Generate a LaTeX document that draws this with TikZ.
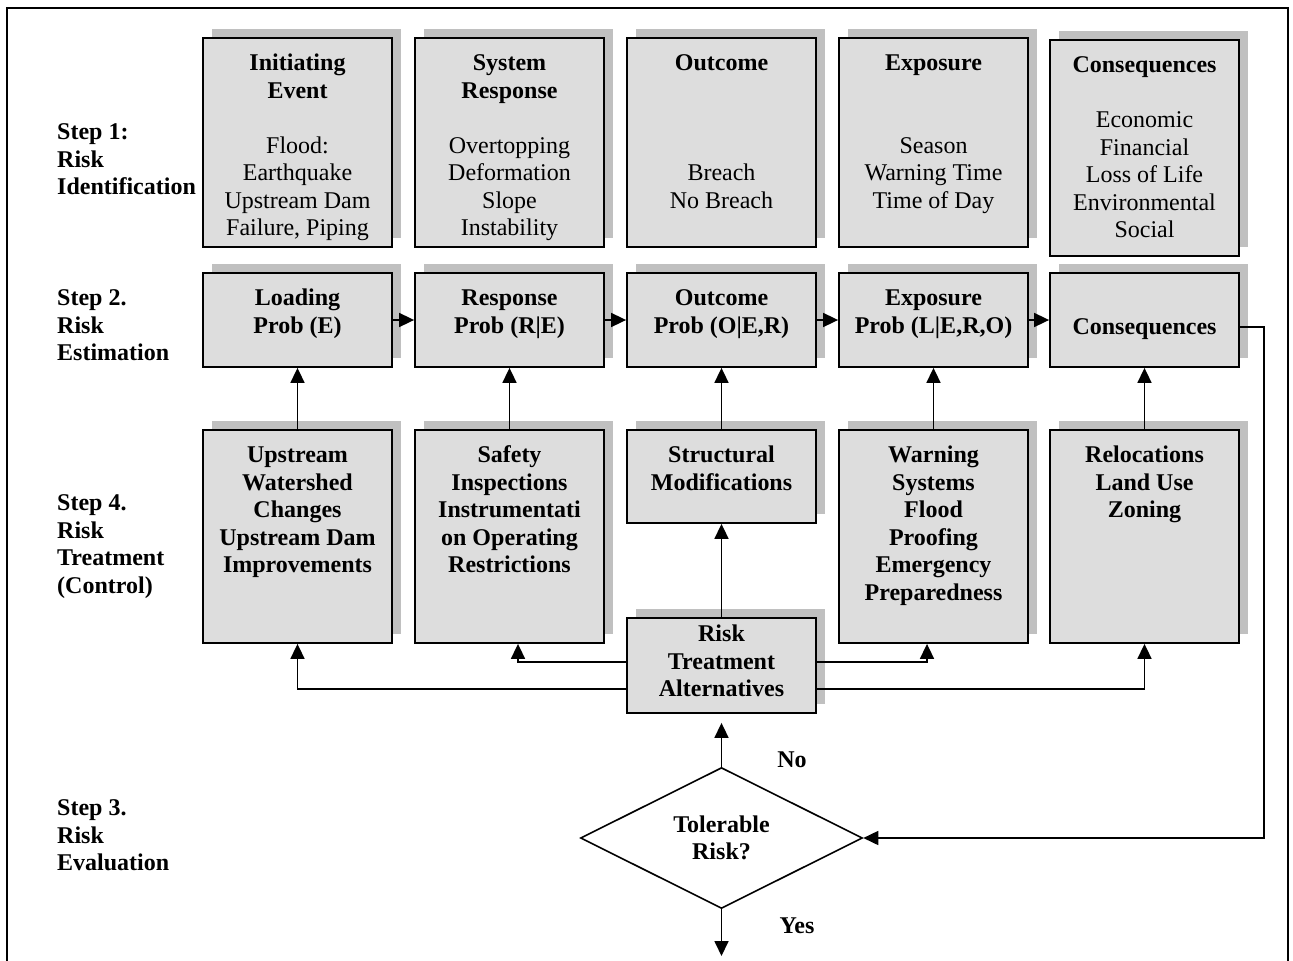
\documentclass[tikz,border=0pt]{standalone}
\usepackage{fontspec}
\setmainfont{Liberation Serif}
\usetikzlibrary{arrows.meta,shapes.geometric,shadows}
\definecolor{boxgray}{HTML}{DDDDDD}
\definecolor{shadowgray}{HTML}{C0C0C0}
\tikzset{
  box/.style={draw, line width=1.8pt, fill=boxgray, minimum width=189pt, inner sep=0pt,
    drop shadow={shadow xshift=9pt, shadow yshift=9pt, fill=shadowgray, opacity=1}},
  lbl/.style={inner sep=0pt, align=center, anchor=north, font=\fontsize{24}{27.5}\selectfont\bfseries},
  plain/.style={inner sep=0pt, align=center, anchor=north, font=\fontsize{24}{27.5}\selectfont},
  steplbl/.style={inner sep=0pt, align=left, anchor=north west, font=\fontsize{24}{27.5}\selectfont\bfseries},
  arr/.style={line width=1.7pt, -{Triangle[length=15pt,width=14pt]}},
}
\begin{document}
\begin{tikzpicture}[x=1pt,y=-1pt]
\useasboundingbox (0,0) rectangle (1293,961);
% outer frame
\coordinate (fa) at (7,961);
\coordinate (fb) at (7,8);
\coordinate (fc) at (1288,8);
\coordinate (fd) at (1288,961);
\draw[line width=1.6pt] (fa) -- (fb) -- (fc) -- (fd);

% step labels
\node[steplbl] (s1) at (57,120.25) {\strut Step 1:\\Risk\\Identification};
\node[steplbl] (s2) at (57,286.25) {\strut Step 2.\\Risk\\Estimation};
\node[steplbl] (s4) at (57,491.25) {\strut Step 4.\\Risk\\Treatment\\(Control)};
\node[steplbl] (s3) at (57,796.25) {\strut Step 3.\\Risk\\Evaluation};

% row 1 boxes
\node[box, minimum height=209pt] (a1) at (297.5,142.5) {};
\node[box, minimum height=209pt] (a2) at (509.5,142.5) {};
\node[box, minimum height=209pt] (a3) at (721.5,142.5) {};
\node[box, minimum height=209pt] (a4) at (933.5,142.5) {};
\node[box, minimum height=216pt] (a5) at (1144.5,148) {};
\node[plain] (at1) at (297.5,51.25) {\strut\textbf{Initiating}\\\textbf{Event}\\[27.5pt]Flood:\\Earthquake\\Upstream Dam\\Failure, Piping};
\node[plain] (at2) at (509.5,51.25) {\strut\textbf{System}\\\textbf{Response}\\[27.5pt]Overtopping\\Deformation\\Slope\\Instability};
\node[plain] (at3) at (721.5,51.25) {\strut\textbf{Outcome}\\[82.5pt]Breach\\No Breach};
\node[plain] (at4) at (933.5,51.25) {\strut\textbf{Exposure}\\[55pt]Season\\Warning Time\\Time of Day};
\node[plain] (at5) at (1144.5,53.25) {\strut\textbf{Consequences}\\[27.5pt]Economic\\Financial\\Loss of Life\\Environmental\\Social};

% row 2 boxes
\node[box, minimum height=94pt] (b1) at (297.5,320) {};
\node[box, minimum height=94pt] (b2) at (509.5,320) {};
\node[box, minimum height=94pt] (b3) at (721.5,320) {};
\node[box, minimum height=94pt] (b4) at (933.5,320) {};
\node[box, minimum height=94pt] (b5) at (1144.5,320) {};
\node[lbl] (bt1) at (297.5,286.25) {\strut Loading\\Prob (E)};
\node[lbl] (bt2) at (509.5,286.25) {\strut Response\\Prob (R|E)};
\node[lbl] (bt3) at (721.5,286.25) {\strut Outcome\\Prob (O|E,R)};
\node[lbl] (bt4) at (933.5,286.25) {\strut Exposure\\Prob (L|E,R,O)};
\node[lbl] (bt5) at (1144.5,315.25) {\strut Consequences};

% row 4 boxes
\node[box, minimum height=213pt] (c1) at (297.5,536.5) {};
\node[box, minimum height=213pt] (c2) at (509.5,536.5) {};
\node[box, minimum height=93pt] (c3) at (721.5,476.5) {};
\node[box, minimum height=213pt] (c4) at (933.5,536.5) {};
\node[box, minimum height=213pt] (c5) at (1144.5,536.5) {};
\node[lbl] (ct1) at (297.5,443.25) {\strut Upstream\\Watershed\\Changes\\Upstream Dam\\Improvements};
\node[lbl] (ct2) at (509.5,443.25) {\strut Safety\\Inspections\\Instrumentati\\on Operating\\Restrictions};
\node[lbl] (ct3) at (721.5,443.25) {\strut Structural\\Modifications};
\node[lbl] (ct4) at (933.5,443.25) {\strut Warning\\Systems\\Flood\\Proofing\\Emergency\\Preparedness};
\node[lbl] (ct5) at (1144.5,443.25) {\strut Relocations\\Land Use\\Zoning};

% risk treatment alternatives
\node[box, minimum height=95pt] (rta) at (721.5,665.5) {};
\node[lbl] (rtat) at (721.5,622.25) {\strut Risk\\Treatment\\Alternatives};

% decision
\node[diamond, draw, line width=1.6pt, minimum width=282pt, minimum height=140pt, inner sep=0pt,
  align=center, font=\fontsize{24}{27.5}\selectfont\bfseries] (d) at (721.5,838) {Tolerable\\Risk?};
\node[inner sep=0pt, font=\fontsize{24}{27.5}\selectfont\bfseries] (no) at (792,760) {No};
\node[inner sep=0pt, anchor=base, font=\fontsize{24}{27.5}\selectfont\bfseries] (yes) at (797,933.5) {Yes};

% row 2 arrows
\draw[arr] (b1) -- (b2);
\draw[arr] (b2) -- (b3);
\draw[arr] (b3) -- (b4);
\draw[arr] (b4) -- (b5);

% row 4 to row 2
\draw[arr] (c1) -- (b1);
\draw[arr] (c2) -- (b2);
\draw[arr] (c3) -- (b3);
\draw[arr] (c4) -- (b4);
\draw[arr] (c5) -- (b5);

% rta to treatments
\draw[arr] (rta) -- (c3);
\coordinate (p1) at (297.5,689);
\coordinate (p2) at (518,662);
\coordinate (p4) at (927,662);
\coordinate (p5) at (1144.5,689);
\draw[arr] (rta.west |- p1) -- (p1) -- (c1.south -| p1);
\draw[arr] (rta.west |- p2) -- (p2) -- (c2.south -| p2);
\draw[arr] (rta.east |- p4) -- (p4) -- (c4.south -| p4);
\draw[arr] (rta.east |- p5) -- (p5) -- (c5.south -| p5);

% evaluation
\draw[arr, shorten >=9pt] (d.north) -- (rta.south);
\coordinate (f1) at (1264,327);
\draw[arr] (b5.east |- f1) -- (f1) |- (d.east);
\coordinate (yesend) at (721.5,956);
\draw[arr] (d.south) -- (yesend);
\end{tikzpicture}
\end{document}
